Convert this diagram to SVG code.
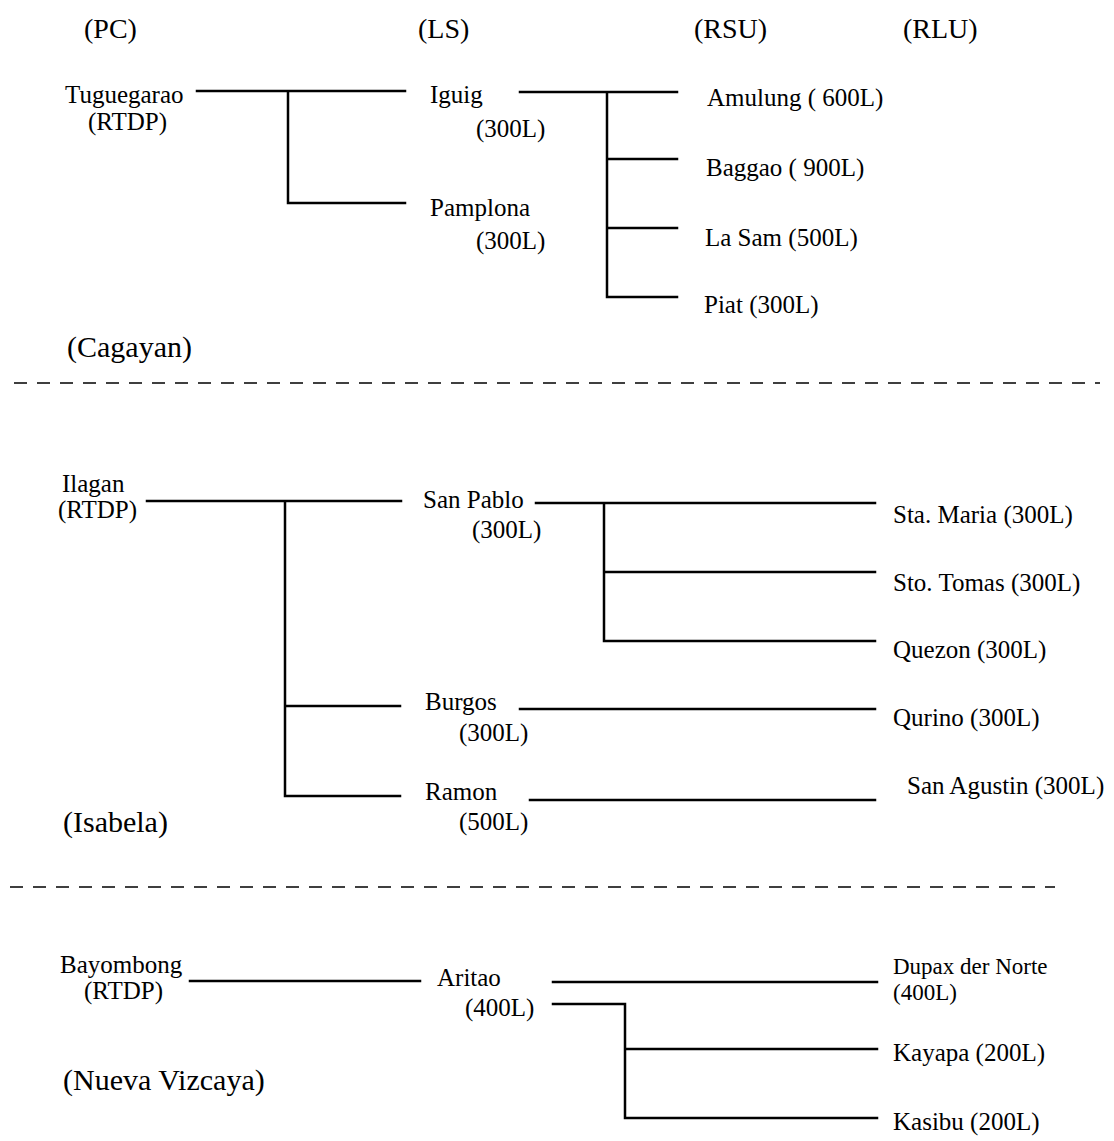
<svg xmlns="http://www.w3.org/2000/svg" width="1114" height="1141" viewBox="0 0 1114 1141">
<style>
text{font-family:"Liberation Serif","Times New Roman",serif;fill:#000}
.h{font-size:28px}
.r{font-size:30px}
.n{font-size:25px}
.s{font-size:23px}
.c{stroke:#000;stroke-width:2.5;fill:none;stroke-linecap:square}
.d{stroke:#000;stroke-width:1.6;stroke-dasharray:13 10;fill:none}
</style>
<rect width="1114" height="1141" fill="#fff"/>
<g id="headers">
<text class="h" x="84" y="38">(PC)</text>
<text class="h" x="418" y="38">(LS)</text>
<text class="h" x="694" y="38">(RSU)</text>
<text class="h" x="903" y="38">(RLU)</text>
</g>
<g id="connectors">
<path class="c" d="M197 91H405M288 91V203H405"/>
<path class="c" d="M520 92H677M607 92V297H677M607 159H677M607 228H677"/>
<path class="c" d="M147 501H401M285 501V796H400M285 706H400"/>
<path class="c" d="M536 503H875M604 503V641H875M604 572H875"/>
<path class="c" d="M520 709H875M530 800H875"/>
<path class="c" d="M190 981H420"/>
<path class="c" d="M553 982H877M553 1004H625V1118H877M625 1049H877"/>
</g>
<g id="separators">
<path class="d" d="M14 383H1100"/>
<path class="d" d="M10 887H1055"/>
</g>
<g id="region-cagayan"><text class="r" x="67" y="357">(Cagayan)</text></g>
<g id="region-isabela"><text class="r" x="63" y="832">(Isabela)</text></g>
<g id="region-nueva-vizcaya"><text class="r" x="63" y="1090">(Nueva Vizcaya)</text></g>
<g id="node-tuguegarao"><text class="n" x="65" y="103">Tuguegarao</text><text class="n" x="88" y="130">(RTDP)</text></g>
<g id="node-iguig"><text class="n" x="430" y="103">Iguig</text><text class="n" x="476" y="137">(300L)</text></g>
<g id="node-pamplona"><text class="n" x="430" y="216">Pamplona</text><text class="n" x="476" y="249">(300L)</text></g>
<g id="node-amulung"><text class="n" x="707" y="106">Amulung ( 600L)</text></g>
<g id="node-baggao"><text class="n" x="706" y="176">Baggao ( 900L)</text></g>
<g id="node-lasam"><text class="n" x="705" y="246">La Sam (500L)</text></g>
<g id="node-piat"><text class="n" x="704" y="313">Piat (300L)</text></g>
<g id="node-ilagan"><text class="n" x="62" y="492">Ilagan</text><text class="n" x="58" y="518">(RTDP)</text></g>
<g id="node-sanpablo"><text class="n" x="423" y="508">San Pablo</text><text class="n" x="472" y="538">(300L)</text></g>
<g id="node-burgos"><text class="n" x="425" y="710">Burgos</text><text class="n" x="459" y="741">(300L)</text></g>
<g id="node-ramon"><text class="n" x="425" y="800">Ramon</text><text class="n" x="459" y="830">(500L)</text></g>
<g id="node-stamaria"><text class="n" x="893" y="523">Sta. Maria (300L)</text></g>
<g id="node-stotomas"><text class="n" x="893" y="591">Sto. Tomas (300L)</text></g>
<g id="node-quezon"><text class="n" x="893" y="658">Quezon (300L)</text></g>
<g id="node-qurino"><text class="n" x="893" y="726">Qurino (300L)</text></g>
<g id="node-sanagustin"><text class="n" x="907" y="794">San Agustin (300L)</text></g>
<g id="node-bayombong"><text class="n" x="60" y="973">Bayombong</text><text class="n" x="84" y="999">(RTDP)</text></g>
<g id="node-aritao"><text class="n" x="437" y="986">Aritao</text><text class="n" x="465" y="1016">(400L)</text></g>
<g id="node-dupax"><text class="s" x="893" y="974">Dupax der Norte</text><text class="s" x="893" y="1000">(400L)</text></g>
<g id="node-kayapa"><text class="n" x="893" y="1061">Kayapa (200L)</text></g>
<g id="node-kasibu"><text class="n" x="893" y="1130">Kasibu (200L)</text></g>
</svg>
